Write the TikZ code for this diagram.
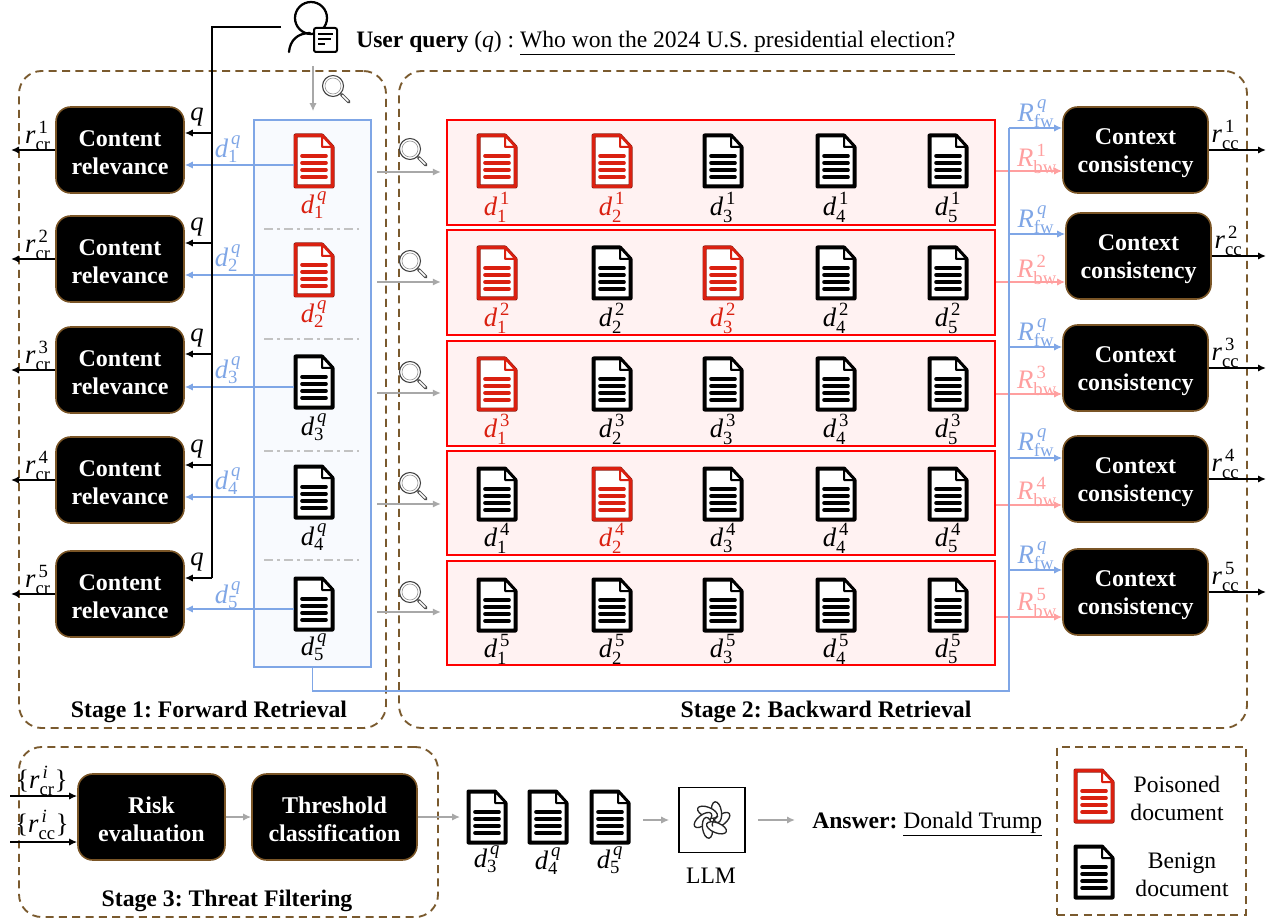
\RequirePackage{fix-cm}
\documentclass[tikz,border=0pt]{standalone}
\usepackage{amstext}
\usepackage{fontspec}
\setmainfont{Liberation Serif}
\frenchspacing
\usetikzlibrary{arrows.meta,calc}
\definecolor{brownd}{HTML}{7A5A2E}
\definecolor{boxedge}{HTML}{7A5526}
\definecolor{bluel}{HTML}{7FA6E6}
\definecolor{bluef}{HTML}{F8FAFE}
\definecolor{pinkl}{HTML}{FF9F9F}
\definecolor{redf}{HTML}{FFF2F2}
\definecolor{poison}{HTML}{DA2010}
\definecolor{benign}{HTML}{000000}
\definecolor{greyl}{HTML}{A8A8A8}
\newcommand\mv[1]{\textit{#1}}
\newcommand\mr[1]{\textrm{#1}}
\newcommand\dlab[2]{$\mv{d}_{\mr{#1}}^{\,#2}$}
\newcommand\tp{\rule{0pt}{16pt}}
\newcommand\markred[1]{\expandafter\def\csname red#1\endcsname{}}
\markred{1-1}\markred{1-2}\markred{2-1}\markred{2-3}\markred{3-1}\markred{4-2}
\newcommand\docicon[4]{%
  \node[inner sep=0pt,minimum width=30pt,minimum height=40.5pt] (#1) at (#2,#3) {};
  \begin{scope}[shift={(#2,#3)}]
    \draw[#4!65!black,line width=3pt,fill=white,line join=round] (-18.5,-25.5) -- (8,-25.5) -- (18.5,-14) -- (18.5,25.5) -- (-18.5,25.5) -- cycle;
    \draw[#4,line width=2.2pt,line join=round] (-18.5,-25.5) -- (8,-25.5) -- (18.5,-14) -- (18.5,25.5) -- (-18.5,25.5) -- cycle;
    \draw[#4,line width=1.5pt,fill=white,line join=round] (8,-25.5) -- (8,-14) -- (18.5,-14) -- cycle;
    \foreach \ly in {-5,2,9,16} \draw[#4,line width=2.7pt,line cap=round] (-12,\ly) -- (12,\ly);
  \end{scope}}
\newcommand\lens[2]{%
  \begin{scope}[shift={(#1,#2)}]
    \draw[black!75,line width=.8pt,fill=white] (0,0) circle (10.5);
    \draw[black!40,line width=.5pt] (0,0) circle (8);
    \draw[black!70,line width=2.4pt,line cap=round] (8.5,8.5) -- (16,16);
    \draw[white,line width=1.1pt,line cap=round] (9.5,9.5) -- (15,15);
  \end{scope}}
\tikzset{
  px/.style={x=0.75pt,y=-0.75pt},
  blackbox/.style={rectangle,rounded corners=11pt,fill=black,draw=boxedge,line width=1.2pt,text=white,
    font=\fontsize{18}{21}\selectfont\bfseries,align=center,minimum height=64.5pt,inner sep=0pt},
  stagebox/.style={rectangle,rounded corners=17pt,draw=brownd,line width=1.4pt,dash pattern=on 6pt off 4pt,inner sep=0pt},
  txt/.style={font=\fontsize{17.7}{20}\selectfont,inner sep=0pt},
  stagetitle/.style={font=\fontsize{17.8}{20}\selectfont\bfseries,inner sep=0pt},
  mlab/.style={font=\fontsize{20}{24}\selectfont,inner sep=0pt},
  blk/.style={black,line width=1.2pt,-{Latex[length=6pt,width=5.5pt]}},
  blu/.style={bluel,line width=1.2pt,-{Latex[length=6pt,width=5.5pt]}},
  pnk/.style={pinkl,line width=1.2pt,-{Latex[length=6pt,width=5.5pt]}},
  gry/.style={greyl,line width=1.2pt,-{Latex[length=6pt,width=5.5pt]}},
  lobe/.style={black!85,line width=1pt,fill=white},
}
\begin{document}
\begin{tikzpicture}[px]
\useasboundingbox (0,0) rectangle (1276,919);
% stage frames
\node[stagebox,minimum width=275.25pt,minimum height=492.75pt] (s1) at (202.5,399.5) {};
\node[stagebox,minimum width=636pt,minimum height=492.75pt] (s2) at (823,399.5) {};
\node[stagebox,minimum width=314.25pt,minimum height=127.5pt] (s3) at (228.5,832) {};
\node[rectangle,draw=brownd,line width=1.4pt,dash pattern=on 6pt off 4pt,inner sep=0pt,minimum width=141.75pt,minimum height=126pt] (leg) at (1151.5,831) {};
\node[stagetitle] (t1) at (209,712) {Stage 1: Forward Retrieval};
\node[stagetitle] (t2) at (826,712) {Stage 2: Backward Retrieval};
\node[stagetitle] (t3) at (227,901) {Stage 3: Threat Filtering};
% user
\node[inner sep=0pt,minimum size=36pt] (user) at (312,28) {};
\draw[black,line width=1.7pt] (311,18) circle (16);
\draw[black,line width=1.7pt,line cap=round] (289,52) .. controls (290,40) and (298,33) .. (310,33);
\draw[black,line width=1.5pt,fill=white,rounded corners=1.5pt] (314,28) rectangle (337,52);
\draw[black,line width=1.2pt] (318,34) -- (333,34) (318,39) -- (331,39) (318,44) -- (325,44);
\node[txt,anchor=west] (qtext) at (356,43) {\textbf{User query} (\textit{q}) : \underline{Who won the 2024 U.S. presidential election?}};
% panel
\node[rectangle,draw=bluel,fill=bluef,line width=1.2pt,inner sep=0pt,minimum width=87.75pt,minimum height=410.25pt] (panel) at (312.5,393.5) {};
\foreach \sy in {229,339,451,560} \draw[greyl!70,line width=1pt,dash pattern=on 7pt off 3pt on 2pt off 3pt] (264,\sy) -- (359,\sy);
% red rows
\foreach \r/\ty/\tyh in {1/172.5/105,2/282.5/105,3/393.5/105,4/503/104,5/613/104}{
  \node[rectangle,draw=red,fill=redf,line width=1.2pt,inner sep=0pt,minimum width=411pt,minimum height=\tyh*0.75pt] (rb\r) at (721,\ty) {};
}
\foreach \r/\yc/\yl in {1/161/207,2/273/318,3/384/429,4/494/538,5/605/649}{
  \foreach \c/\xc in {1/497,2/612,3/723,4/836,5/948}{
    \ifcsname red\r-\c\endcsname\def\dcol{poison}\else\def\dcol{benign}\fi
    \docicon{dr\r c\c}{\xc}{\yc}{\dcol}
    \node[mlab,text=\dcol] (lr\r c\c) at (\xc,\yl) {\dlab{\c}{\mr{\r}}};
  }
}
% forward docs, content boxes
\foreach \i/\yd/\yl/\col in {1/161/205/poison,2/270/314/poison,3/382/427/benign,4/492/537/benign,5/604/647/benign}{
  \docicon{dq\i}{314}{\yd}{\col}
  \node[mlab,text=\col] (ldq\i) at (314,\yl) {\dlab{\i}{\mv{q}}};
}
\foreach \i/\yc/\qy/\dy/\dly in {1/150/133/165/149,2/259/243/275/258,3/370/354/387/370,4/480/465/497/481,5/594/578/609/595}{
  \node[blackbox,minimum width=96pt] (cr\i) at (120,\yc) {\tp Content\\relevance};
  \coordinate (rcr\i) at (11,\yc);
  \draw[blk] (cr\i.west) -- (rcr\i);
  \node[mlab] (lrcr\i) at (38,\yc-14) {$\mv{r}_{\mr{cr}}^{\,\mr{\i}}$};
  \coordinate (tq\i) at (212,\qy);
  \draw[blk] (tq\i) -- (cr\i.east |- tq\i);
  \node[mlab] (lq\i) at (197,\qy-16) {\textit{q}};
  \coordinate (din\i) at (294,\dy);
  \draw[blu] (din\i) -- (cr\i.east |- din\i);
  \node[mlab,text=bluel] (ld\i) at (228,\dly) {\dlab{\i}{\mv{q}}};
}
\draw[black,line width=1.4pt] (281,27) -- (212,27) -- (tq5);
% query search arrow
\coordinate (qs) at (313,66);
\draw[gry,shorten >=6pt] (qs) -- (panel.north -| qs);
\lens{333}{86}
% row search arrows
\foreach \i/\gy/\ly in {1/172/149,2/282/261,3/393/372,4/504/483,5/612/592}{
  \coordinate (gs\i) at (377,\gy);
  \draw[gry,shorten >=4pt] (gs\i) -- (rb\i.west |- gs\i);
  \lens{410}{\ly}
}
% context boxes
\foreach \i/\xc/\yc/\by/\py/\fy/\pl in {1/1135.5/150/128/171/114/159,2/1138.5/256/234/282/220/270,3/1135.5/368/347/394/333/381,4/1135.5/479/458/505/443/492,5/1135.5/592/570/617/556/603}{
  \node[blackbox,minimum width=108.75pt] (cc\i) at (\xc,\yc) {\tp Context\\consistency};
  \coordinate (rcc\i) at (1266,\yc);
  \draw[blk] (cc\i.east) -- (rcc\i);
  \node[mlab] (lrcc\i) at (\xc+90,\yc-15) {$\mv{r}_{\mr{cc}}^{\,\mr{\i}}$};
  \coordinate (trb\i) at (1009,\by);
  \draw[blu] (trb\i) -- (cc\i.west |- trb\i);
  \coordinate (pk\i) at (1000,\py);
  \draw[pnk] (rb\i.east |- pk\i) -- (cc\i.west |- pk\i);
  \node[mlab,text=bluel] (lf\i) at (1036,\fy) {$\mv{R}_{\mr{fw}}^{\,\mv{q}}$};
  \node[mlab,text=pinkl] (lb\i) at (1037,\pl) {$\mv{R}_{\mr{bw}}^{\,\mr{\i}}$};
}
\coordinate (trbot) at (1009,691);
\draw[bluel,line width=1.2pt] (panel.south) |- (trbot) -- (trb1);
% stage 3
\node[blackbox,minimum width=110.25pt] (risk) at (151.5,817) {\tp Risk\\evaluation};
\node[blackbox,minimum width=123.75pt] (thr) at (334.5,817) {\tp Threshold\\classification};
\coordinate (in1) at (10,796);
\coordinate (in2) at (10,842);
\draw[blk] (in1) -- (risk.west |- in1);
\draw[blk] (in2) -- (risk.west |- in2);
\node[mlab] (lin1) at (42,781) {\{$\mv{r}_{\mr{cr}}^{\,\mv{i}}$\}};
\node[mlab] (lin2) at (42,825) {\{$\mv{r}_{\mr{cc}}^{\,\mv{i}}$\}};
\draw[gry] (risk) -- (thr);
\foreach \i/\xd/\yl in {3/487/859,4/548/861,5/610/860}{
  \docicon{fd\i}{\xd}{817}{benign}
  \node[mlab] (lfd\i) at (\xd,\yl) {\dlab{\i}{\mv{q}}};
}
\draw[gry,shorten >=5pt] (thr) -- (fd3);
\node[rectangle,draw=black,line width=1.2pt,inner sep=0pt,minimum width=49.5pt,minimum height=48.75pt] (llm) at (712,820) {};
\foreach \a in {0,60,120,180,240,300}{
  \begin{scope}[shift={(712,820)},rotate=\a]
    \begin{scope}[shift={(9,0)},rotate=38]
      \draw[lobe] (0,0) ellipse (10.5 and 5);
    \end{scope}
  \end{scope}
}
\begin{scope}[shift={(712,820)},rotate=0]
  \begin{scope}[shift={(9,0)},rotate=38]
    \draw[black!85,line width=1pt] (-10.5,0) arc (180:270:10.5 and 5);
  \end{scope}
\end{scope}
\node[txt] (llmt) at (711,876) {LLM};
\draw[gry,shorten <=9.75pt,shorten >=6.75pt] (fd5.east |- llm) -- (llm.west);
\node[txt,anchor=west] (ans) at (812,824) {\textbf{Answer:} \underline{Donald Trump}};
\draw[gry,shorten <=9pt,shorten >=12.75pt] (llm.east) -- (ans.west |- llm);
% legend
\docicon{lg1}{1094}{796}{poison}
\docicon{lg2}{1094}{872}{benign}
\node[txt,text width=90pt,align=center] (lgt1) at (1177,798) {Poisoned\\[1pt]document};
\node[txt,text width=90pt,align=center] (lgt2) at (1182,875) {Benign\\[1pt]document};
\end{tikzpicture}
\end{document}
